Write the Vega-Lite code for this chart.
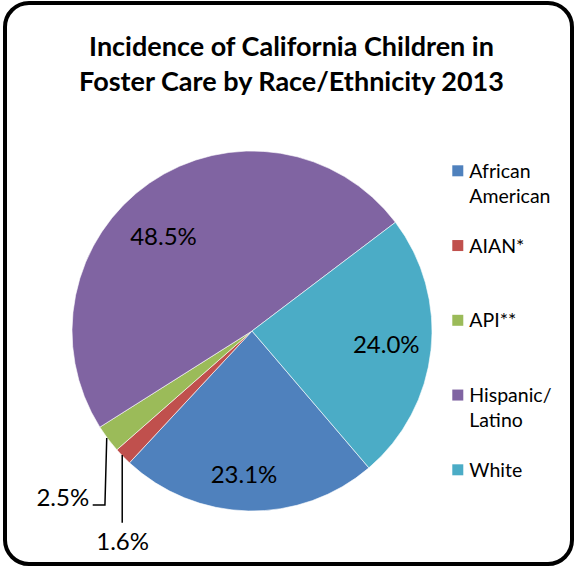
{
  "$schema": "https://vega.github.io/schema/vega-lite/v6.json",
  "width": 567,
  "height": 561,
  "autosize": {"type": "none"},
  "padding": {"left": 5, "top": 3, "right": 3, "bottom": 3},
  "background": "white",
  "config": {"view": {"stroke": "black", "strokeWidth": 4, "cornerRadius": 24}, "font": "Lato"},
  "title": {
    "text": ["Incidence of California Children in", "Foster Care by Race/Ethnicity 2013"],
    "font": "Lato", "fontSize": 27, "fontWeight": "bold", "color": "black",
    "anchor": "middle", "offset": -94, "lineHeight": 35, "dx": 3
  },
  "datasets": {
    "groups": [
      {"cat": "African American", "legend": "African\nAmerican", "value": 23.1, "label": "23.1%", "o": 1},
      {"cat": "AIAN*", "legend": "AIAN*", "value": 1.6, "label": "1.6%", "o": 2},
      {"cat": "API**", "legend": "API**", "value": 2.5, "label": "2.5%", "o": 3},
      {"cat": "Hispanic/Latino", "legend": "Hispanic/\nLatino", "value": 48.5, "label": "48.5%", "o": 4},
      {"cat": "White", "legend": "White", "value": 24.0, "label": "24.0%", "o": 5}
    ],
    "leaders": [
      {"g": "API", "i": 1, "u": -0.807, "v": -0.594},
      {"g": "API", "i": 2, "u": -0.817, "v": -0.967},
      {"g": "API", "i": 3, "u": -0.885, "v": -0.967},
      {"g": "AIAN", "i": 1, "u": -0.721, "v": -0.689},
      {"g": "AIAN", "i": 2, "u": -0.721, "v": -1.065}
    ],
    "outside": [
      {"label": "2.5%", "u": -1.051, "v": -0.936},
      {"label": "1.6%", "u": -0.719, "v": -1.175}
    ]
  },
  "layer": [
    {
      "layer": [
        {
          "data": {"name": "groups"},
          "mark": {"type": "arc", "radius": 180, "stroke": "white", "strokeWidth": 0.6},
          "encoding": {
            "x": {"datum": 0, "type": "quantitative", "scale": {"domain": [-1, 1], "range": [67, 427]}, "axis": null},
            "y": {"datum": 0, "type": "quantitative", "scale": {"domain": [-1, 1], "range": [508, 148]}, "axis": null},
            "theta": {"field": "value", "type": "quantitative", "stack": true, "scale": {"range": [2.4347, 8.7179]}},
            "order": {"field": "o", "type": "quantitative"},
            "color": {
              "field": "cat", "type": "nominal",
              "scale": {"domain": ["African American", "AIAN*", "API**", "Hispanic/Latino", "White"],
                        "range": ["#4F81BD", "#C0504D", "#9BBB59", "#8064A2", "#4BACC6"]},
              "legend": null
            }
          }
        },
        {
          "data": {"name": "groups"},
          "mark": {"type": "text", "radius": 135, "fontSize": 24, "color": "black", "align": "center", "baseline": "middle"},
          "encoding": {
            "x": {"datum": 0, "type": "quantitative"},
            "y": {"datum": 0, "type": "quantitative"},
            "theta": {"field": "value", "type": "quantitative", "stack": true},
            "order": {"field": "o", "type": "quantitative"},
            "text": {"condition": {"test": "datum.o == 5", "field": "label"}, "value": ""}
          }
        },
        {
          "data": {"name": "groups"},
          "mark": {"type": "text", "radius": 145, "dx": -5, "fontSize": 24, "color": "black", "align": "center", "baseline": "middle"},
          "encoding": {
            "x": {"datum": 0, "type": "quantitative"},
            "y": {"datum": 0, "type": "quantitative"},
            "theta": {"field": "value", "type": "quantitative", "stack": true},
            "order": {"field": "o", "type": "quantitative"},
            "text": {"condition": {"test": "datum.o == 1", "field": "label"}, "value": ""}
          }
        },
        {
          "data": {"name": "groups"},
          "mark": {"type": "text", "radius": 129, "dx": -15, "dy": 13, "fontSize": 24, "color": "black", "align": "center", "baseline": "middle"},
          "encoding": {
            "x": {"datum": 0, "type": "quantitative"},
            "y": {"datum": 0, "type": "quantitative"},
            "theta": {"field": "value", "type": "quantitative", "stack": true},
            "order": {"field": "o", "type": "quantitative"},
            "text": {"condition": {"test": "datum.o == 4", "field": "label"}, "value": ""}
          }
        },
        {
          "data": {"name": "leaders"},
          "mark": {"type": "line", "color": "black", "strokeWidth": 1.5},
          "encoding": {
            "x": {"field": "u", "type": "quantitative"},
            "y": {"field": "v", "type": "quantitative"},
            "detail": {"field": "g"},
            "order": {"field": "i", "type": "quantitative"}
          }
        },
        {
          "data": {"name": "outside"},
          "mark": {"type": "text", "fontSize": 24, "color": "black", "align": "center", "baseline": "middle"},
          "encoding": {
            "x": {"field": "u", "type": "quantitative"},
            "y": {"field": "v", "type": "quantitative"},
            "text": {"field": "label"}
          }
        }
      ]
    },
    {
      "layer": [
        {
          "data": {"name": "groups"},
          "mark": {"type": "square", "size": 121, "filled": true, "opacity": 1},
          "encoding": {
            "x": {"datum": 1.1433, "type": "quantitative"},
            "y": {"field": "o", "type": "quantitative", "scale": {"domain": [1, 5], "range": [167.8, 466.8]}, "axis": null},
            "color": {"field": "cat", "type": "nominal"}
          }
        },
        {
          "data": {"name": "groups"},
          "mark": {"type": "text", "fontSize": 19.5, "color": "black", "align": "left", "baseline": "alphabetic", "dy": 7, "lineBreak": "\n", "lineHeight": 25},
          "encoding": {
            "x": {"datum": 1.2072, "type": "quantitative"},
            "y": {"field": "o", "type": "quantitative"},
            "text": {"field": "legend"}
          }
        }
      ]
    }
  ],
  "resolve": {"scale": {"y": "independent"}}
}
